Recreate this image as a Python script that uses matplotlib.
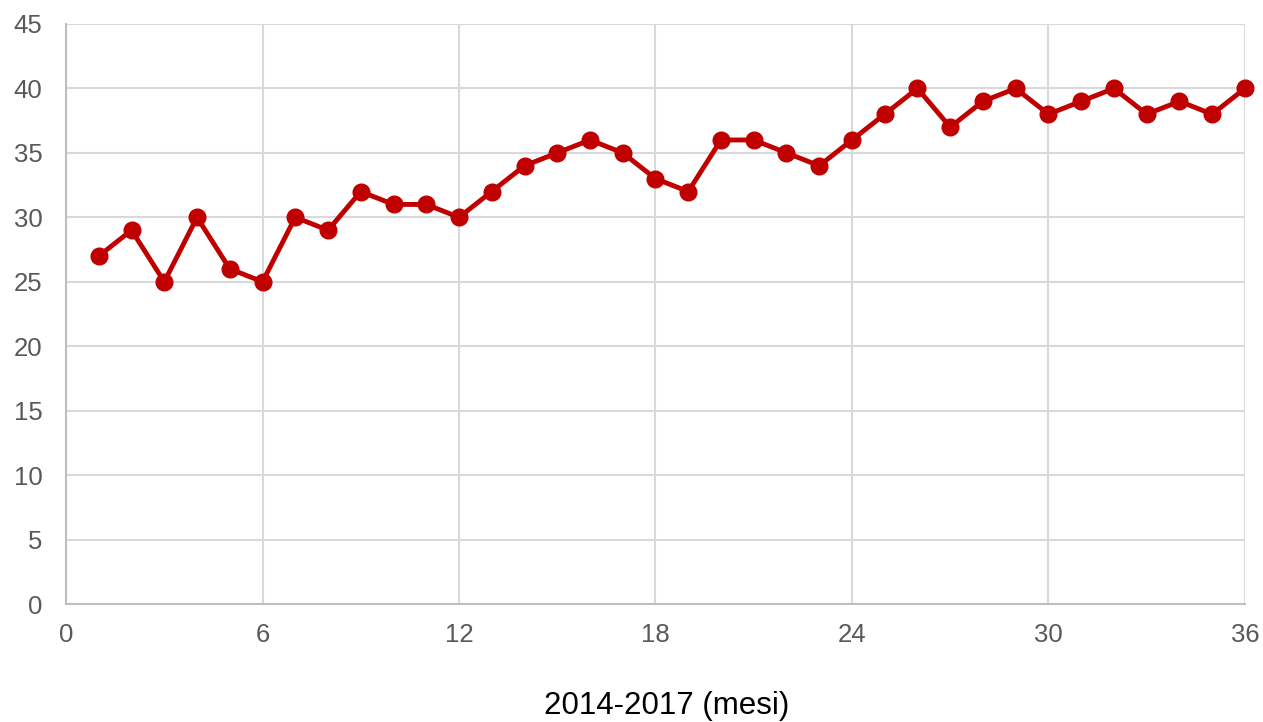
import matplotlib.pyplot as plt

mesi = list(range(1, 37))
valori = [27, 29, 25, 30, 26, 25, 30, 29, 32, 31, 31, 30,
          32, 34, 35, 36, 35, 33, 32, 36, 36, 35, 34, 36,
          38, 40, 37, 39, 40, 38, 39, 40, 38, 39, 38, 40]
x_ticks = [0, 6, 12, 18, 24, 30, 36]
y_ticks = list(range(0, 50, 5))

plt.rcParams['font.family'] = ['Liberation Sans', 'DejaVu Sans']

fig = plt.figure(figsize=(12.63, 7.22), dpi=100)
ax = fig.add_axes([0.0523, 0.1634, 0.9334, 0.8034])

ax.plot(mesi, valori, color='#C00000', lw=3.5, marker='o', ms=12, zorder=3,
        clip_on=False)

ax.set_xlim(0, 36)
ax.set_ylim(0, 45)
ax.set_xticks(x_ticks)
ax.set_yticks(y_ticks)
ax.grid(True, color='#d9d9d9', lw=1.5)
ax.set_axisbelow(True)
for s in ['top', 'right']:
  ax.spines[s].set_visible(False)
for s in ['left', 'bottom']:
  ax.spines[s].set_color('#bfbfbf')
  ax.spines[s].set_linewidth(1.5)
ax.tick_params(length=0, labelsize=18.5, colors='#595959')
ax.tick_params(axis='x', pad=14)
ax.tick_params(axis='y', pad=17)
# x label placed by hand, close to the bottom edge like the original
fig.text(0.528, 0.022, '2014-2017 (mesi)', fontsize=22.5, ha='center', va='center')

fig.savefig('out.png')
